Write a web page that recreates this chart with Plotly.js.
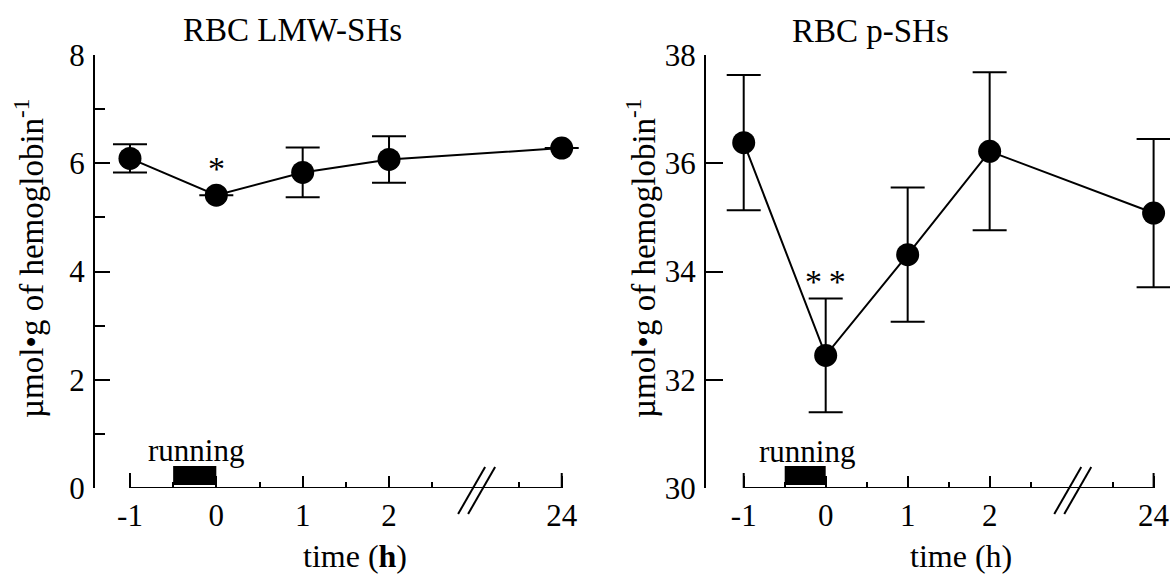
<!DOCTYPE html>
<html>
<head>
<meta charset="utf-8">
<script src="https://cdn.plot.ly/plotly-3.0.1.min.js"></script>
<style>html,body{margin:0;padding:0;background:#fff;}#chart{width:1172px;height:575px;}</style>
</head>
<body>
<div id="chart"></div>
<script>
// ---- data ----
const hours = [-1, 0, 1, 2, 24];
const tickLabels = ['-1', '0', '1', '2', '24'];
const lmwMean = [6.09, 5.41, 5.83, 6.07, 6.28];
const lmwErr = [0.26, null, 0.46, 0.43, null];
const pshMean = [36.38, 32.45, 34.31, 36.22, 35.08];
const pshErr = [1.25, 1.05, 1.24, 1.46, 1.37];
const runStart = -0.5, runEnd = 0;

// broken time axis: -1..2 h evenly spaced, gap, then 24 h
function axisPos(h) { return h <= 2 ? h + 1 : 5; }
const xPos = hours.map(axisPos);
const breakPos = 4.02;

const FONT = 'Liberation Serif';

function series(yv, err, xa, ya) {
  return {
    type: 'scatter', mode: 'lines+markers', x: xPos, y: yv, xaxis: xa, yaxis: ya,
    line: {color: 'black', width: 2},
    marker: {color: 'black', size: 23},
    error_y: {type: 'data', array: err, visible: true, color: 'black', thickness: 2, width: 17},
    cliponaxis: false, hoverinfo: 'skip'
  };
}

const data = [
  series(lmwMean, lmwErr, 'x', 'y'),
  series(pshMean, pshErr, 'x2', 'y2')
];

const dom1 = [0, 484 / 1075], rng1 = [-0.405, 5.2];
const dom2 = [611 / 1075, 1], rng2 = [-0.46, 5.2];

function xAxis(domain, range, anchor) {
  return {
    domain: domain, range: range, anchor: anchor,
    tickmode: 'array', tickvals: xPos, ticktext: tickLabels,
    ticks: 'inside', ticklen: 12, tickwidth: 2, tickcolor: 'black',
    minor: {tickmode: 'array', tickvals: [0.5, 1.5, 2.5, 3.5, 4.5], ticks: 'inside', ticklen: 6, tickwidth: 2, tickcolor: 'black', showgrid: false},
    showline: false, showgrid: false, zeroline: false,
    tickfont: {family: FONT, size: 31, color: 'black'},
    ticklabelstandoff: 6
  };
}
function yAxis(range, tv, minorVals, anchor, tlen) {
  const ax = {
    range: range, anchor: anchor, domain: [0, 1],
    tickmode: 'array', tickvals: tv,
    ticks: 'inside', ticklen: tlen, tickwidth: 2, tickcolor: 'black',
    showline: true, linewidth: 2, linecolor: 'black',
    showgrid: false, zeroline: false,
    tickfont: {family: FONT, size: 31, color: 'black'},
    ticklabelstandoff: 2
  };
  if (minorVals) ax.minor = {tickmode: 'array', tickvals: minorVals, ticks: 'inside', ticklen: 10, tickwidth: 2, tickcolor: 'black', showgrid: false};
  return ax;
}

const yMin1 = 0, yMin2 = 30;

function toPaperX(pos, dom, rng) { return dom[0] + (pos - rng[0]) / (rng[1] - rng[0]) * (dom[1] - dom[0]); }

function panelShapes(xr, yr, yMin, dom, rng) {
  const bx = toPaperX(breakPos, dom, rng);
  const endTick = (pos) => ({type: 'line', xref: xr, yref: yr, x0: pos, x1: pos,
    ysizemode: 'pixel', yanchor: yMin, y0: 0, y1: 15, line: {color: 'black', width: 2}});
  return [
    // x axis line (runs from -1 h to 24 h only)
    {type: 'line', xref: xr, yref: yr, x0: axisPos(-1), x1: axisPos(24), y0: yMin, y1: yMin, line: {color: 'black', width: 2}},
    endTick(axisPos(-1)), endTick(axisPos(24)),
    // running period bar
    {type: 'rect', xref: xr, yref: yr, x0: axisPos(runStart), x1: axisPos(runEnd),
     ysizemode: 'pixel', yanchor: yMin, y0: 3, y1: 22, fillcolor: 'black', line: {width: 0}},
    // axis break marks (paper refs so they are not clipped below the axis)
    {type: 'line', xref: 'paper', yref: 'paper', xsizemode: 'pixel', xanchor: bx, ysizemode: 'pixel', yanchor: 0,
     x0: -19, x1: 8, y0: -26, y1: 21, line: {color: 'black', width: 2}},
    {type: 'line', xref: 'paper', yref: 'paper', xsizemode: 'pixel', xanchor: bx, ysizemode: 'pixel', yanchor: 0,
     x0: -9, x1: 18, y0: -26, y1: 21, line: {color: 'black', width: 2}}
  ];
}

// pixel helpers for text placement (plot area: x 95..1170, y 55..488)
const PL = 95, PW = 1075, PB = 488, PH = 433;
function px(x) { return (x - PL) / PW; }
function py(y) { return (PB - y) / PH; }

const txt = (text, x, y, size, extra) => Object.assign({
  text: text, x: x, y: y, xref: 'paper', yref: 'paper', showarrow: false,
  xanchor: 'center', yanchor: 'middle', font: {family: FONT, size: size, color: 'black'}
}, extra || {});

const annotations = [
  txt('RBC LMW-SHs', px(292), py(30), 33),
  txt('RBC p-SHs', px(870), py(31), 33),
  txt('time (<b>h</b>)', px(355), py(556), 32),
  txt('time (h)', px(961), py(556), 32),
  txt('µmol•g of hemoglobin<sup>-1</sup>', px(29), py(259), 33, {textangle: -90}),
  txt('µmol•g of hemoglobin<sup>-1</sup>', px(641), py(259), 33, {textangle: -90}),
  // running labels
  {text: 'running', xref: 'x', yref: 'y', x: 0.76, y: 0.7, showarrow: false, font: {family: FONT, size: 31, color: 'black'}},
  {text: 'running', xref: 'x2', yref: 'y2', x: 0.77, y: 30.68, showarrow: false, font: {family: FONT, size: 31, color: 'black'}},
  // significance marks
  {text: '*', xref: 'x', yref: 'y', x: axisPos(0), y: 5.9, showarrow: false, font: {family: FONT, size: 34, color: 'black'}},
  {text: '*\u2009*', xref: 'x2', yref: 'y2', x: axisPos(0), y: 33.82, showarrow: false, font: {family: FONT, size: 34, color: 'black'}}
];

const layout = {
  width: 1172, height: 575,
  margin: {l: 95, r: 2, t: 55, b: 87},
  paper_bgcolor: 'white', plot_bgcolor: 'white',
  showlegend: false,
  font: {family: FONT, size: 30, color: 'black'},
  xaxis: xAxis(dom1, rng1, 'y'),
  yaxis: yAxis([0, 8], [0, 2, 4, 6, 8], [1, 3, 5, 7], 'x', 15),
  xaxis2: xAxis(dom2, rng2, 'y2'),
  yaxis2: yAxis([30, 38], [30, 32, 34, 36, 38], null, 'x2', 17),
  shapes: panelShapes('x', 'y', yMin1, dom1, rng1).concat(panelShapes('x2', 'y2', yMin2, dom2, rng2)),
  annotations: annotations
};

Plotly.newPlot('chart', data, layout, {displayModeBar: false, staticPlot: true});
</script>
</body>
</html>
